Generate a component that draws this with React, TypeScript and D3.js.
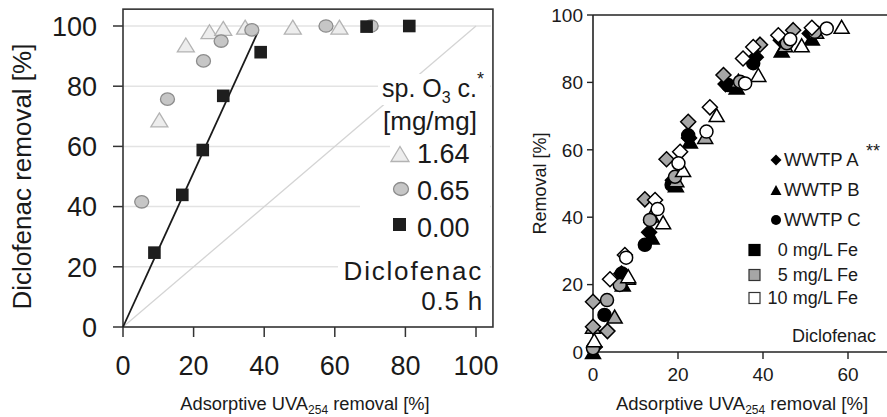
import React from "react";
import * as d3 from "d3";

// ---------- Left panel data ----------
const leftTicks = [0, 20, 40, 60, 80, 100];
const tri164: [number, number][] = [[10.3, 68.8], [17.8, 93.7], [24.5, 98.1], [28.4, 99.2], [34.6, 99.6], [48.1, 99.6], [61.3, 99.6]];
const circ065: [number, number][] = [[5.3, 41.6], [12.6, 75.7], [22.8, 88.4], [27.8, 95], [36.5, 98.7], [57.5, 100], [70.3, 100]];
const sq000: [number, number][] = [[8.9, 24.7], [16.8, 43.9], [22.6, 58.8], [28.4, 76.8], [39, 91.3], [69, 99.8], [81.1, 100]];
const fitLine: [number, number][] = [[0, 0], [38.2, 98]];
const oneToOne: [number, number][] = [[0, 0], [100, 100]];
const leftLegendValues = ["1.64", "0.65", "0.00"];

// ---------- Right panel data ----------
const rightXTicks = [0, 20, 40, 60];
const rightYTicks = [0, 20, 40, 60, 80, 100];
// WWTP A (diamonds)
const aFe0: [number, number][] = [[0.4, 1.5], [6.7, 23.3], [13.2, 35.5], [18.8, 51], [22.6, 63.5], [31.2, 79.5], [38.3, 87.5], [44.2, 92.5], [51, 94.5]];
const aFe5: [number, number][] = [[0, 14.9], [0, 7.5], [3.4, 6.2], [12.2, 45.3], [17.3, 57.2], [22.4, 68.3], [30.7, 82.2], [39.3, 91.2], [47.1, 95.5]];
const aFe10: [number, number][] = [[4, 21.6], [7.5, 28.8], [14.6, 45.1], [20.5, 59.4], [27.5, 72.6], [35.3, 87.1], [37.7, 90.5], [43.6, 94], [51.5, 96.2]];
// WWTP B (triangles)
const bFe0: [number, number][] = [[0, 0], [7, 20], [13.8, 34], [19.5, 49.5], [22.8, 62.5], [33.8, 78.5], [44.4, 89.5], [51.5, 93]];
const bFe5: [number, number][] = [[0, 7.5], [5.1, 10.5], [8.2, 22], [13.8, 40.5], [19.6, 51], [26.4, 63.8], [34.2, 80.5], [45.2, 91], [52.5, 95]];
const bFe10: [number, number][] = [[0.3, 3.5], [8.3, 22.5], [16.5, 38.5], [21.2, 54], [29.1, 70.3], [38.9, 82.2], [49.1, 91], [58.5, 96.5]];
// WWTP C (circles)
const cFe0: [number, number][] = [[2.7, 11], [6.8, 23.3], [12.2, 31.8], [18.5, 49.6], [22.4, 64.3], [31.8, 79.2], [37.7, 85.7]];
const cFe5: [number, number][] = [[0, 1.1], [3.3, 15.4], [6.3, 19.9], [13.4, 39.2], [19.3, 52], [34.6, 80.2], [45.6, 91.6], [52.2, 95]];
const cFe10: [number, number][] = [[7.8, 28], [15.2, 42.4], [20.1, 56], [26.7, 65.4], [35.8, 79.7], [46.4, 92.8], [55, 96]];

const plantLabels = ["WWTP A", "WWTP B", "WWTP C"];
const feLabels = [" 0 mg/L Fe", " 5 mg/L Fe", "10 mg/L Fe"];

const FONT = "'Liberation Sans', Arial, Helvetica, sans-serif";
const TXT = "#1a1a1a";
const FE_FILL = ["#000000", "#a6a6a6", "#ffffff"];

function triPath(x: number, y: number, w: number, h: number) {
  return `M${x},${y - h / 2}L${x + w / 2},${y + h / 2}L${x - w / 2},${y + h / 2}Z`;
}
function diaPath(x: number, y: number, r: number) {
  return `M${x},${y - r}L${x + r},${y}L${x},${y + r}L${x - r},${y}Z`;
}

export default function App() {
  // Left scales
  const lx = d3.scaleLinear().domain([0, 100]).range([123, 476]);
  const ly = d3.scaleLinear().domain([0, 100]).range([327, 26]);
  const lLine = d3.line<[number, number]>().x((d) => lx(d[0])).y((d) => ly(d[1]));
  const boxR = lx(104.8);
  const boxT = ly(105.6);

  // Right scales
  const rx = d3.scaleLinear().domain([0, 60]).range([593, 848]);
  const ry = d3.scaleLinear().domain([0, 100]).range([352, 15]);

  const diamonds = [aFe0, aFe5, aFe10];
  const triangles = [bFe0, bFe5, bFe10];
  const circles = [cFe0, cFe5, cFe10];

  const legRowsY = [163, 200, 237];

  return (
    <svg width={887} height={417} style={{ position: "absolute", left: 0, top: 0, background: "#fff" }} fontFamily={FONT}>
      <rect x={0} y={0} width={887} height={417} fill="#fff" />

      {/* ================= LEFT PANEL ================= */}
      {leftTicks.filter((t) => t > 0).map((t) => (
        <line key={"g" + t} x1={lx(0)} x2={boxR - 2} y1={ly(t)} y2={ly(t)} stroke="#e3e3e3" strokeWidth={1.5} />
      ))}
      <path d={lLine(oneToOne) || ""} stroke="#d4d4d4" strokeWidth={1.3} fill="none" />

      {/* legend background masks */}
      <rect x={378} y={74} width={112} height={31} fill="#fff" />
      <rect x={390} y={140} width={100} height={30} fill="#fff" />
      <rect x={360} y={204} width={130} height={40} fill="#fff" />
      <rect x={338} y={252} width={152} height={62} fill="#fff" />

      <rect x={lx(0)} y={boxT} width={boxR - lx(0)} height={ly(0) - boxT} fill="none" stroke="#333" strokeWidth={1.6} />

      {leftTicks.map((t) => (
        <g key={"ly" + t}>
          <line x1={lx(0) - 10} x2={lx(0)} y1={ly(t)} y2={ly(t)} stroke="#333" strokeWidth={1.5} />
          <text x={97} y={ly(t)} dy="0.36em" textAnchor="end" fontSize={27} fill={TXT}>{t}</text>
        </g>
      ))}
      {leftTicks.map((t) => (
        <g key={"lx" + t}>
          <line x1={lx(t)} x2={lx(t)} y1={ly(0)} y2={ly(0) + 10} stroke="#333" strokeWidth={1.5} />
          <text x={lx(t)} y={375} textAnchor="middle" fontSize={27} fill={TXT}>{t}</text>
        </g>
      ))}

      <text transform={`translate(31,${(ly(0) + ly(100)) / 2}) rotate(-90)`} textAnchor="middle" fontSize={26} fill={TXT}>
        Diclofenac removal [%]
      </text>
      <text x={305} y={410} textAnchor="middle" fontSize={18.3} fill={TXT}>
        Adsorptive UVA<tspan fontSize={12} dy={4}>254</tspan><tspan dy={-4}> removal [%]</tspan>
      </text>

      <path d={lLine(fitLine) || ""} stroke="#1a1a1a" strokeWidth={1.8} fill="none" />

      {tri164.map((d, i) => (
        <path key={"t" + i} d={triPath(lx(d[0]), ly(d[1]), 17, 14)} fill="#ededed" stroke="#b3b3b3" strokeWidth={1.3} />
      ))}
      {circ065.map((d, i) => (
        <ellipse key={"c" + i} cx={lx(d[0])} cy={ly(d[1])} rx={7} ry={6.2} fill="#c6c6c6" stroke="#8c8c8c" strokeWidth={1.3} />
      ))}
      {sq000.map((d, i) => (
        <rect key={"s" + i} x={lx(d[0]) - 6.3} y={ly(d[1]) - 6.3} width={12.6} height={12.6} fill="#1e1e1e" />
      ))}

      {/* legend */}
      <text x={382} y={97} fontSize={25} fill={TXT}>
        sp. O<tspan fontSize={16} dy={6}>3</tspan><tspan dy={-6}> c.</tspan><tspan fontSize={18} dy={-12}>*</tspan>
      </text>
      <text x={383} y={130} fontSize={26} fill={TXT}>[mg/mg]</text>
      <path d={triPath(400, legRowsY[0] - 9, 18, 15)} fill="#ededed" stroke="#b3b3b3" strokeWidth={1.3} />
      <ellipse cx={401} cy={legRowsY[1] - 11} rx={7.5} ry={6.5} fill="#c6c6c6" stroke="#8c8c8c" strokeWidth={1.3} />
      <rect x={393} y={legRowsY[2] - 19} width={13} height={13} fill="#1e1e1e" />
      {leftLegendValues.map((v, i) => (
        <text key={"lv" + i} x={417} y={legRowsY[i]} fontSize={27} fill={TXT}>{v}</text>
      ))}
      <text x={483} y={280} textAnchor="end" fontSize={26} fill={TXT} letterSpacing={1.8}>Diclofenac</text>
      <text x={483} y={310} textAnchor="end" fontSize={26} fill={TXT} letterSpacing={0.8}>0.5 h</text>

      {/* ================= RIGHT PANEL ================= */}
      <line x1={rx(0)} x2={887} y1={ry(100)} y2={ry(100)} stroke="#222" strokeWidth={1.6} />
      <line x1={rx(0)} x2={887} y1={ry(0)} y2={ry(0)} stroke="#222" strokeWidth={1.6} />
      <line x1={rx(0)} x2={rx(0)} y1={ry(0)} y2={ry(100)} stroke="#222" strokeWidth={1.6} />
      {rightYTicks.map((t) => (
        <g key={"ry" + t}>
          <line x1={rx(0) - 6} x2={rx(0)} y1={ry(t)} y2={ry(t)} stroke="#222" strokeWidth={1.4} />
          <text x={583} y={ry(t)} dy="0.36em" textAnchor="end" fontSize={19} fill={TXT}>{t}</text>
        </g>
      ))}
      {rightXTicks.map((t) => (
        <g key={"rx" + t}>
          <line x1={rx(t)} x2={rx(t)} y1={ry(0)} y2={ry(0) + 7} stroke="#222" strokeWidth={1.4} />
          <text x={rx(t)} y={381} textAnchor="middle" fontSize={19} fill={TXT}>{t}</text>
        </g>
      ))}
      <text transform={`translate(546,${(ry(0) + ry(100)) / 2}) rotate(-90)`} textAnchor="middle" fontSize={18} fill={TXT}>
        Removal [%]
      </text>
      <text x={742} y={410} textAnchor="middle" fontSize={18.5} fill={TXT}>
        Adsorptive UVA<tspan fontSize={12} dy={4}>254</tspan><tspan dy={-4}> removal [%]</tspan>
      </text>

      {[0, 1, 2].map((f) => (
        <g key={"fe" + f}>
          {triangles[f].map((d, i) => (
            <path key={"bt" + i} d={triPath(rx(d[0]), ry(d[1]), 15, 13)} fill={FE_FILL[f]} stroke="#000" strokeWidth={1.5} />
          ))}
          {diamonds[f].map((d, i) => (
            <path key={"ad" + i} d={diaPath(rx(d[0]), ry(d[1]), 7.5)} fill={FE_FILL[f]} stroke="#000" strokeWidth={1.5} />
          ))}
          {circles[f].map((d, i) => (
            <circle key={"cc" + i} cx={rx(d[0])} cy={ry(d[1])} r={6.5} fill={FE_FILL[f]} stroke="#000" strokeWidth={1.5} />
          ))}
        </g>
      ))}

      {/* legend */}
      <path d={diaPath(776, 160, 5.5)} fill="#000" />
      <path d={triPath(776, 190, 11, 10)} fill="#000" />
      <circle cx={776} cy={220} r={5} fill="#000" />
      {plantLabels.map((l, i) => (
        <text key={"pl" + i} x={784} y={166 + i * 30} fontSize={18.5} fill={TXT}>{l}</text>
      ))}
      <text x={866} y={157} fontSize={18} fill={TXT}>**</text>
      {[0, 1, 2].map((f) => (
        <rect key={"fl" + f} x={749} y={[250, 275, 298][f] - 5.5} width={11} height={11}
          fill={FE_FILL[f]} stroke={f === 0 ? "#000" : "#333"} strokeWidth={1.2} />
      ))}
      {feLabels.map((l, i) => (
        <text key={"fe" + i} x={858} y={[256, 281, 304][i]} textAnchor="end" fontSize={18} fill={TXT} style={{ whiteSpace: "pre" }}>{l}</text>
      ))}
      <text x={876} y={342} textAnchor="end" fontSize={18} fill={TXT}>Diclofenac</text>
    </svg>
  );
}
